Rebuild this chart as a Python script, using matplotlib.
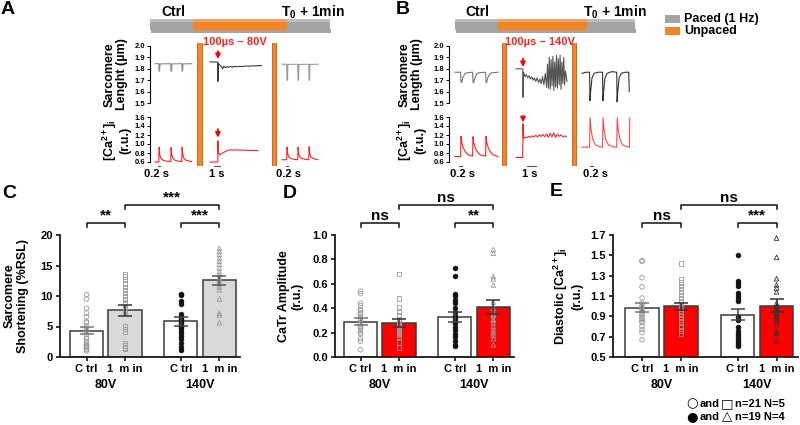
import matplotlib
matplotlib.use('Agg')
import matplotlib.pyplot as plt
import matplotlib.transforms as mtransforms
from matplotlib.patches import Rectangle
import numpy as np

plt.rcParams['font.family'] = ['Liberation Sans', 'DejaVu Sans']
plt.rcParams['font.weight'] = 'bold'
plt.rcParams['mathtext.fontset'] = 'custom'
plt.rcParams['mathtext.rm'] = 'Liberation Sans:bold'
plt.rcParams['mathtext.it'] = 'Liberation Sans:bold'
plt.rcParams['mathtext.bf'] = 'Liberation Sans:bold'
plt.rcParams['mathtext.default'] = 'rm'

# ---------------- data: bar charts ----------------
groups = ['80V', '140V']
conditions = ['C trl', '1  m in', 'C trl', '1  m in']

short_mean = [4.3, 7.7, 5.85, 12.55]
short_sem = [0.6, 0.9, 0.75, 0.75]
short_ctrl80 = [10.2, 9.5, 8.0, 7.2, 6.6, 5.8, 5.6, 5.0, 4.5, 4.2, 3.7, 3.1, 3.0, 2.6, 2.3,
                2.0, 1.8, 1.7, 1.5, 1.2, 1.0]
short_1min80 = [13.5, 13.2, 12.7, 12.0, 11.5, 11.0, 10.5, 10.0, 9.8, 9.4, 8.8, 8.2, 7.8, 7.4,
                5.0, 4.6, 4.2, 2.3, 1.9, 1.6, 1.4]
short_ctrl140 = [10.4, 10.1, 9.1, 8.7, 7.0, 6.5, 6.2, 5.9, 5.6, 5.3, 5.0, 4.7, 4.3, 3.9, 3.4,
                 2.9, 2.3, 1.7, 1.2]
short_1min140 = [17.8, 17.3, 16.8, 16.2, 15.7, 15.2, 14.6, 14.0, 13.5, 13.0, 12.8, 12.5, 12.0,
                 11.5, 11.0, 9.5, 7.2, 6.9, 5.6]

catr_mean = [0.29, 0.275, 0.33, 0.41]
catr_sem = [0.03, 0.033, 0.042, 0.055]
catr_ctrl80 = [0.54, 0.52, 0.44, 0.42, 0.39, 0.38, 0.36, 0.35, 0.33, 0.31, 0.30, 0.28, 0.27,
               0.25, 0.24, 0.22, 0.20, 0.19, 0.15, 0.13, 0.06]
catr_1min80 = [0.68, 0.48, 0.41, 0.37, 0.34, 0.31, 0.30, 0.29, 0.27, 0.26, 0.25, 0.24, 0.23,
               0.22, 0.21, 0.20, 0.19, 0.18, 0.17, 0.12, 0.08]
catr_ctrl140 = [0.73, 0.66, 0.52, 0.50, 0.47, 0.44, 0.40, 0.37, 0.34, 0.31, 0.29, 0.28, 0.25,
                0.22, 0.19, 0.16, 0.13, 0.10, 0.09]
catr_1min140 = [0.88, 0.85, 0.66, 0.64, 0.59, 0.45, 0.40, 0.37, 0.35, 0.34, 0.31, 0.30, 0.28,
                0.25, 0.22, 0.20, 0.18, 0.15, 0.10]

dia_mean = [0.985, 0.997, 0.918, 1.005]
dia_sem = [0.047, 0.037, 0.055, 0.065]
dia_ctrl80 = [1.45, 1.44, 1.28, 1.19, 1.08, 1.03, 1.00, 0.98, 0.97, 0.95, 0.93, 0.92, 0.90,
              0.88, 0.87, 0.85, 0.84, 0.80, 0.77, 0.74, 0.67]
dia_1min80 = [1.42, 1.26, 1.23, 1.20, 1.17, 1.14, 1.11, 1.08, 1.05, 1.02, 1.00, 0.99, 0.96,
              0.95, 0.93, 0.90, 0.87, 0.84, 0.80, 0.76, 0.73]
dia_ctrl140 = [1.50, 1.25, 1.23, 1.20, 1.13, 1.10, 1.07, 1.05, 0.89, 0.86, 0.80, 0.76, 0.73,
               0.71, 0.68, 0.66, 0.64, 0.62, 0.61]
dia_1min140 = [1.67, 1.48, 1.27, 1.21, 1.18, 1.14, 1.03, 1.00, 0.97, 0.96, 0.94, 0.93, 0.90,
               0.88, 0.86, 0.82, 0.75, 0.73, 0.66]

# ---------------- data: traces (time s, value) ----------------
A_ctrl_sl = [(0, 1.845), (0.33, 1.845), (0.35, 1.78), (0.40, 1.78), (0.43, 1.843), (1.37, 1.845),
             (1.39, 1.78), (1.44, 1.78), (1.47, 1.843), (2.33, 1.845), (2.35, 1.78), (2.40, 1.78),
             (2.43, 1.843), (3.2, 1.845)]
A_ctrl_ca = [(0, 0.6), (0.33, 0.6), (0.36, 0.93), (0.42, 0.76), (0.52, 0.68), (0.7, 0.64),
             (0.95, 0.62), (1.37, 0.61), (1.40, 0.92), (1.46, 0.76), (1.56, 0.68), (1.74, 0.64),
             (1.99, 0.62), (2.33, 0.61), (2.36, 0.93), (2.42, 0.76), (2.52, 0.68), (2.7, 0.64),
             (2.95, 0.62), (3.2, 0.61)]
A_stim_sl = [(0, 1.86), (1.3, 1.86), (1.33, 1.69), (1.38, 1.845), (1.6, 1.835), (1.9, 1.82),
             (2.1, 1.80), (2.3, 1.822), (2.55, 1.81), (2.8, 1.82), (3.1, 1.812), (3.4, 1.82),
             (3.8, 1.815), (4.2, 1.822), (4.6, 1.818), (5.0, 1.822), (5.5, 1.82), (6.0, 1.825),
             (6.5, 1.823), (7.0, 1.826), (7.5, 1.825), (8.0, 1.828), (8.6, 1.828)]
A_stim_ca = [(0, 0.6), (1.3, 0.6), (1.32, 1.07), (1.38, 0.82), (1.6, 0.76), (2.0, 0.79),
             (2.5, 0.83), (3.0, 0.86), (3.5, 0.87), (4.0, 0.865), (4.5, 0.87), (5.0, 0.862),
             (5.5, 0.866), (6.0, 0.86), (6.5, 0.858), (7.0, 0.856), (7.5, 0.857), (8.0, 0.852)]
A_post_sl = [(0, 1.84), (0.41, 1.84), (0.43, 1.70), (0.48, 1.70), (0.51, 1.838), (1.37, 1.84),
             (1.39, 1.70), (1.44, 1.70), (1.47, 1.838), (2.33, 1.84), (2.35, 1.70), (2.40, 1.70),
             (2.43, 1.838), (3.13, 1.84)]
A_post_ca = [(0, 0.65), (0.41, 0.65), (0.44, 0.93), (0.50, 0.78), (0.60, 0.71), (0.78, 0.68),
             (1.0, 0.66), (1.37, 0.65), (1.40, 0.93), (1.46, 0.78), (1.56, 0.71), (1.74, 0.68),
             (1.99, 0.66), (2.33, 0.65), (2.36, 0.94), (2.42, 0.78), (2.52, 0.71), (2.7, 0.68),
             (2.95, 0.66), (3.13, 0.65)]

B_ctrl_sl = [(0, 1.77), (0.45, 1.77), (0.48, 1.68), (0.53, 1.68), (0.62, 1.72), (0.78, 1.755),
             (0.95, 1.765), (1.41, 1.77), (1.44, 1.68), (1.49, 1.68), (1.58, 1.72), (1.74, 1.755),
             (1.91, 1.765), (2.45, 1.77), (2.48, 1.68), (2.53, 1.68), (2.62, 1.72), (2.78, 1.755),
             (2.95, 1.765), (3.44, 1.77)]
B_ctrl_ca = [(0, 0.72), (0.45, 0.72), (0.48, 1.17), (0.55, 1.02), (0.68, 0.9), (0.85, 0.82),
             (1.05, 0.76), (1.41, 0.73), (1.44, 1.16), (1.51, 1.02), (1.64, 0.9), (1.81, 0.82),
             (2.01, 0.76), (2.45, 0.73), (2.48, 1.17), (2.55, 1.02), (2.68, 0.9), (2.85, 0.82),
             (3.05, 0.76), (3.44, 0.72)]
B_stim_sl = [(0, 1.80), (0.75, 1.80), (0.78, 1.55), (0.84, 1.77), (1.0, 1.73), (1.15, 1.75),
             (1.3, 1.72), (1.45, 1.74), (1.6, 1.71), (1.75, 1.73), (1.9, 1.70), (2.05, 1.72),
             (2.2, 1.69), (2.35, 1.72), (2.5, 1.68), (2.65, 1.71), (2.8, 1.67), (2.95, 1.73),
             (3.1, 1.66), (3.25, 1.76), (3.4, 1.64), (3.5, 1.84), (3.6, 1.63), (3.7, 1.90),
             (3.8, 1.62), (3.9, 1.88), (4.0, 1.65), (4.1, 1.91), (4.2, 1.61), (4.3, 1.86),
             (4.4, 1.64), (4.5, 1.92), (4.6, 1.63), (4.7, 1.89), (4.8, 1.66), (4.9, 1.92),
             (5.0, 1.62), (5.1, 1.86), (5.2, 1.67), (5.3, 1.90), (5.4, 1.66), (5.5, 1.78),
             (5.67, 1.69)]
B_stim_ca = [(0, 0.70), (0.75, 0.70), (0.77, 1.45), (0.84, 1.12), (1.0, 1.15), (1.2, 1.14),
             (1.4, 1.17), (1.6, 1.15), (1.8, 1.18), (2.0, 1.16), (2.2, 1.19), (2.4, 1.16),
             (2.6, 1.20), (2.8, 1.17), (3.0, 1.21), (3.2, 1.16), (3.4, 1.22), (3.6, 1.15),
             (3.8, 1.24), (4.0, 1.16), (4.2, 1.25), (4.4, 1.15), (4.6, 1.22), (4.8, 1.17),
             (5.0, 1.20), (5.2, 1.16), (5.4, 1.18), (5.6, 1.16)]
B_post_sl = [(0, 1.76), (0.3, 1.77), (0.56, 1.77), (0.59, 1.52), (0.64, 1.60), (0.74, 1.72),
             (0.9, 1.76), (1.2, 1.77), (1.52, 1.77), (1.55, 1.52), (1.6, 1.60), (1.7, 1.72),
             (1.86, 1.76), (2.2, 1.775), (2.57, 1.77), (2.6, 1.51), (2.65, 1.60), (2.75, 1.72),
             (2.91, 1.76), (3.2, 1.77), (3.46, 1.77), (3.5, 1.60)]
B_post_ca = [(0, 0.93), (0.56, 0.93), (0.6, 1.58), (0.68, 1.3), (0.8, 1.1), (1.0, 0.98),
             (1.3, 0.94), (1.52, 0.93), (1.56, 1.58), (1.64, 1.3), (1.76, 1.1), (1.96, 0.98),
             (2.3, 0.94), (2.57, 0.93), (2.61, 1.58), (2.69, 1.3), (2.81, 1.1), (3.01, 0.98),
             (3.3, 0.94), (3.51, 0.93), (3.54, 1.58)]

sl_ticks = [1.5, 1.6, 1.7, 1.8, 1.9, 2.0]
ca_ticks = [0.6, 0.8, 1.0, 1.2, 1.4, 1.6]

# ---------------- figure ----------------
W, H = 800, 425
fig = plt.figure(figsize=(8, 4.25), dpi=100)


def add_ax(x0, y0, x1, y1):
    return fig.add_axes([x0 / W, 1 - y1 / H, (x1 - x0) / W, (y1 - y0) / H])


def ftext(px, py, s, **kw):
    fig.text(px / W, 1 - py / H, s, **kw)


def frect(x0, y0, x1, y1, **kw):
    fig.patches.append(Rectangle((x0 / W, 1 - y1 / H), (x1 - x0) / W, (y1 - y0) / H,
                                 transform=fig.transFigure, **kw))


ORANGE = '#f0852c'
GRAY = '#a3a3a3'
RED = '#ff2020'

# panel letters
for lab, (px, py) in {'A': (8, 9), 'B': (403, 9), 'C': (9, 193), 'D': (290, 193),
                      'E': (556, 192)}.items():
    ftext(px, py, lab, fontsize=14, ha='center', va='center')


def timeline(x0, x1, x2, x3, tx_ctrl, tx_t0, stimtxt, stim_x):
    y0, y1 = 19, 30
    frect(x0 + 1, y1 - 1, x3 + 1, y1 + 2.5, color='#5a5a5a', alpha=0.55, lw=0)
    frect(x0, y0, x1, y1, color=GRAY, lw=0)
    frect(x1, y0, x2, y1, color=ORANGE, lw=0)
    frect(x2, y0, x3, y1, color=GRAY, lw=0)
    frect(x0, y0, x1, y0 + 3, color='#bdbdbd', lw=0)
    frect(x1, y0, x2, y0 + 3, color='#f6a15a', lw=0)
    frect(x2, y0, x3, y0 + 3, color='#bdbdbd', lw=0)
    ftext(tx_ctrl, 12, 'Ctrl', fontsize=10, ha='center', va='center')
    ftext(tx_t0, 12, 'T$_0$ + 1min', fontsize=10, ha='center', va='center')
    ftext(stim_x, 42, stimtxt, fontsize=8, color=RED, ha='center', va='center')


timeline(150, 193, 287, 330, 173, 313, '100µs – 80V', 235)
timeline(455, 498, 587, 635, 477, 615, '100µs – 140V', 540)

# legend top right
frect(665, 15, 680, 23, color=GRAY, lw=0)
frect(665, 27, 680, 35, color=ORANGE, lw=0)
ftext(684, 19, 'Paced (1 Hz)', fontsize=9, ha='left', va='center')
ftext(684, 31, 'Unpaced', fontsize=9, ha='left', va='center')

# orange vertical separators
for x0, x1 in [(197, 203), (272, 277), (502, 507), (572, 577)]:
    frect(x0, 43, x1, 166, color=ORANGE, lw=0)
    frect(x0, 43, x0 + 1.2, 166, color='#d46a15', lw=0)
    frect(x1 - 1.2, 43, x1, 166, color='#d46a15', lw=0)

SL_TOP, SL_BOT = 46, 103
CA_TOP, CA_BOT = 117, 162


def trace_ax(axis_px, start_px, end_px, top, bot, px_per_s, ylim, ticks, show_y):
    left = axis_px if show_y else start_px
    ax = add_ax(left, top, end_px, bot)
    ax.set_xlim(-(start_px - left) / px_per_s, (end_px - start_px) / px_per_s)
    ax.set_ylim(*ylim)
    ax.patch.set_alpha(0)
    for s in ['top', 'right', 'bottom']:
        ax.spines[s].set_visible(False)
    ax.set_xticks([])
    if show_y:
        ax.spines['left'].set_linewidth(0.8)
        ax.set_yticks(ticks)
        ax.set_yticklabels([f'{t:.1f}' for t in ticks], fontsize=5.5)
        ax.tick_params(axis='y', length=2, width=0.7, pad=1.5)
    else:
        ax.spines['left'].set_visible(False)
        ax.set_yticks([])
    return ax


def draw(ax, pairs, color, lw=0.8):
    t, v = np.array(pairs).T
    ax.plot(t, v, color=color, lw=lw, clip_on=False)


def scalebar(ax, t0, dur, text_t):
    tr = mtransforms.blended_transform_factory(ax.transData, ax.transAxes)
    ax.plot([t0, t0 + dur], [-0.09, -0.09], transform=tr, color='#555', lw=0.8, clip_on=False)
    ax.text(text_t, -0.26, '0.2 s' if dur < 0.5 else '1 s', transform=tr, ha='center',
            va='center', fontsize=8)


def arrow(ax, t, ytail, ytip):
    ax.annotate('', xy=(t, ytip), xytext=(t, ytail),
                arrowprops=dict(arrowstyle='-|>', color='red', lw=1.3, mutation_scale=7,
                                shrinkA=0, shrinkB=0), annotation_clip=False)


def trace_panel(axis_px, segs, labels, label_x):
    axes = []
    for i, (sp, ep, pps, sl, ca, slc, cac, sb) in enumerate(segs):
        a1 = trace_ax(axis_px, sp, ep, SL_TOP, SL_BOT, pps, (1.5, 2.0), sl_ticks, i == 0)
        a2 = trace_ax(axis_px, sp, ep, CA_TOP, CA_BOT, pps, (0.6, 1.6), ca_ticks, i == 0)
        draw(a1, sl, slc)
        draw(a2, ca, cac)
        scalebar(a2, *sb)
        axes.append((a1, a2))
    ftext(label_x, (SL_TOP + SL_BOT) / 2, labels[0], fontsize=9, rotation=90, ha='center',
          va='center', linespacing=1.05)
    ftext(label_x, (CA_TOP + CA_BOT) / 2 + 1, labels[1], fontsize=9, rotation=90,
          ha='center', va='center', linespacing=1.05)
    return axes


axA = trace_panel(150, [
    (155, 194, 11.5, A_ctrl_sl, A_ctrl_ca, '#8a8a8a', RED, (0.26, 0.2, 0.17)),
    (210, 264, 6.0, A_stim_sl, A_stim_ca, '#3a3a3a', RED, (0.67, 1.0, 1.17)),
    (282, 320, 11.5, A_post_sl, A_post_ca, '#9a9a9a', RED, (0.35, 0.2, 0.6)),
], ['Sarcomere\nLenght (µm)', '[Ca$^{2+}$]$_i$\n(r.u.)'], 116)
arrow(axA[1][0], 1.33, 1.955, 1.885)
arrow(axA[1][1], 1.32, 1.33, 1.14)

axB = trace_panel(449, [
    (455, 500, 12.5, B_ctrl_sl, B_ctrl_ca, '#777777', RED, (0.32, 0.2, 0.56)),
    (516, 570, 9.0, B_stim_sl, B_stim_ca, '#555555', RED, (1.22, 1.0, 1.55)),
    (582, 634, 13.5, B_post_sl, B_post_ca, '#333333', '#ff4848', (0.6, 0.2, 1.0)),
], ['Sarcomere\nLength (µm)', '[Ca$^{2+}$]$_i$\n(r.u.)'], 411)
arrow(axB[1][0], 0.78, 1.89, 1.815)
arrow(axB[1][1], 0.78, 1.62, 1.48)

# ---------------- bar panels ----------------
pos = [0, 1, 2.45, 3.45]
TOP, BOT = 235, 357


def bar_panel(axis_px, c0_px, unit, ylim, yticks, fmt, means, sems, pts, fills, pt_styles,
              err_cols, brackets, ylabel, ylabel_x):
    ax = add_ax(axis_px, TOP, c0_px + 3.99 * unit, BOT)
    ax.set_xlim((axis_px - c0_px) / unit, 3.99)
    ax.set_ylim(*ylim)
    for s in ['top', 'right']:
        ax.spines[s].set_visible(False)
    for s in ['left', 'bottom']:
        ax.spines[s].set_linewidth(1.3)
        ax.spines[s].set_color('#1a1a1a')
    for i in range(4):
        ax.bar(pos[i], means[i] - ylim[0], bottom=ylim[0], width=0.86, color=fills[i],
               edgecolor='#3a3a3a', lw=1.1, zorder=1)
        mk, fc, ec = pt_styles[i]
        ax.scatter(np.full(len(pts[i]), pos[i]), pts[i], marker=mk, s=11, facecolors=fc,
                   edgecolors=ec, linewidths=0.6, zorder=2, clip_on=False)
        ax.errorbar(pos[i], means[i], yerr=sems[i], color=err_cols[i], capsize=5, lw=1.1,
                    capthick=1.1, zorder=3)
    ax.set_yticks(yticks)
    ax.set_yticklabels([fmt.format(t) for t in yticks], fontsize=8)
    ax.set_xticks(pos)
    ax.set_xticklabels(conditions, fontsize=8)
    ax.tick_params(length=3, width=1.1, pad=2)
    tr = mtransforms.blended_transform_factory(ax.transData, ax.transAxes)
    hpx = BOT - TOP
    for g, x in zip(groups, [0.5, 2.95]):
        ax.text(x, -28 / hpx, g, transform=tr, ha='center', va='center', fontsize=9)
    for (i, j, up, lab) in brackets:
        x1, x2 = pos[i], pos[j]
        yt = 1 + up / hpx
        yb = 1 + (up - 4) / hpx
        ax.plot([x1, x1, x2, x2], [yb, yt, yt, yb], transform=tr, color='#222', lw=1.2,
                clip_on=False)
        off = 8 if lab.startswith('*') else 7
        ax.text((x1 + x2) / 2, yt + off / hpx, lab, transform=tr, ha='center', va='center',
                fontsize=11)
    ftext(ylabel_x, (TOP + BOT) / 2, ylabel, fontsize=9, rotation=90, ha='center',
          va='center', linespacing=1.15)
    return ax


LG = '#9a9a9a'
bar_panel(60, 86.5, 38.5, (0, 20), [0, 5, 10, 15, 20], '{:.0f}', short_mean, short_sem,
          [short_ctrl80, short_1min80, short_ctrl140, short_1min140],
          ['white', '#d9d9d9', 'white', '#d9d9d9'],
          [('o', 'none', LG), ('s', 'none', LG), ('o', '#111', '#111'), ('^', 'none', LG)],
          ['#777', '#333', '#444', '#555'],
          [(0, 1, 12, '**'), (2, 3, 12, '***'), (1, 3, 30, '***')],
          'Sarcomere\nShortening (%RSL)', 16)

bar_panel(335, 360.5, 38.5, (0, 1.0), [0, 0.2, 0.4, 0.6, 0.8, 1.0], '{:.1f}', catr_mean,
          catr_sem, [catr_ctrl80, catr_1min80, catr_ctrl140, catr_1min140],
          ['white', '#ff0000', 'white', '#ff0000'],
          [('o', 'none', LG), ('s', 'none', LG), ('o', '#111', '#111'), ('^', 'none', LG)],
          ['#777', '#333', '#444', '#333'],
          [(0, 1, 12, 'ns'), (2, 3, 12, '**'), (1, 3, 30, 'ns')],
          'CaTr Amplitude\n(r.u.)', 291)

bar_panel(613, 642, 39, (0.5, 1.7), [0.5, 0.7, 0.9, 1.1, 1.3, 1.5, 1.7], '{:.1f}', dia_mean,
          dia_sem, [dia_ctrl80, dia_1min80, dia_ctrl140, dia_1min140],
          ['white', '#ff0000', 'white', '#ff0000'],
          [('o', 'none', LG), ('s', 'none', LG), ('o', '#111', '#111'), ('^', 'none', '#333')],
          ['#777', '#333', '#444', '#333'],
          [(0, 1, 12, 'ns'), (2, 3, 12, '***'), (1, 3, 30, 'ns')],
          'Diastolic [Ca$^{2+}$]$_i$\n(r.u.)', 568)

# bottom legend
sym = dict(family=['DejaVu Sans'], fontweight='normal', fontsize=9.5, va='center',
           ha='center')
for py, s1, s2, txt in [(404, '○', '□', 'n=21 N=5'), (417, '●', '△', 'n=19 N=4')]:
    ftext(692, py, s1, **sym)
    ftext(700, py, 'and', fontsize=8, ha='left', va='center')
    ftext(727, py, s2, **sym)
    ftext(735, py, txt, fontsize=8, ha='left', va='center')

fig.savefig('out.png', dpi=100)
